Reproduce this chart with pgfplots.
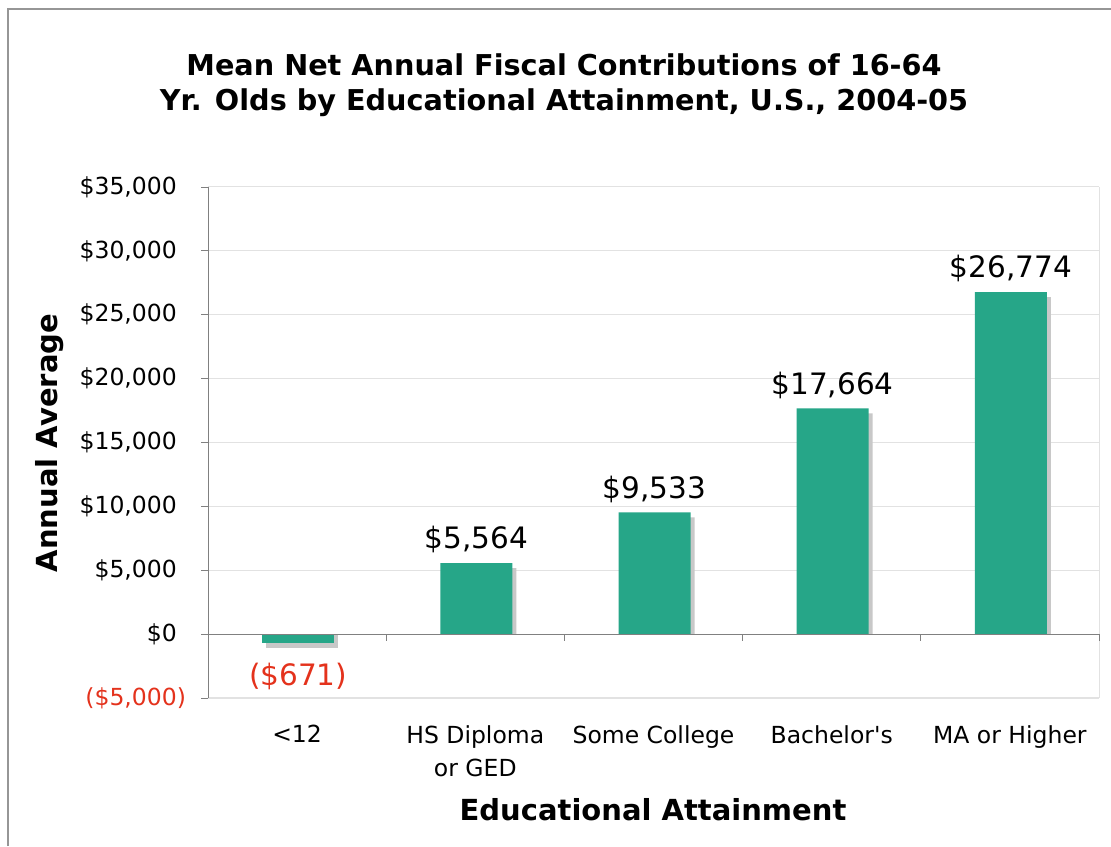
\documentclass[border=0pt]{standalone}
\usepackage{fontspec}
\setmainfont{DejaVu Sans}[Ligatures=TeXOff]
\usepackage{pgfplots}
\usepackage{pgfplotstable}
\pgfplotsset{compat=1.18}
\definecolor{bargreen}{RGB}{38,166,136}
\definecolor{shadowgray}{RGB}{200,200,200}
\definecolor{gridgray}{RGB}{226,226,226}
\definecolor{axisgray}{RGB}{128,128,128}
\definecolor{negred}{RGB}{228,50,28}
\definecolor{framegray}{RGB}{150,150,150}
\pgfplotstableread{
x v lab
1 5564 {\$5,564}
2 9533 {\$9,533}
3 17664 {\$17,664}
4 26774 {\$26,774}
}\postable
\pgfplotstableread{
x v lab
0 -671 {(\$671)}
}\negtable
\begin{document}
\begin{tikzpicture}
\useasboundingbox (0,0) rectangle (1111pt,846pt);
\fill[white] (0,0) rectangle (1111pt,846pt);
\draw[framegray, line width=1.2pt] (8pt,0) -- (8pt,837pt) -- (1111pt,837pt);
\begin{axis}[
  at={(208pt,148pt)}, anchor=south west,
  scale only axis, width=891pt, height=511pt,
  ybar,
  xmin=-0.5, xmax=4.5,
  ymin=-5000, ymax=35000,
  scaled y ticks=false,
  axis y line*=left, axis x line*=bottom,
  x axis line style={draw=gridgray,-},
  y axis line style={draw=axisgray,-, line width=0.9pt},
  xtick={0,1,2,3,4},
  xticklabels={{<12},{HS Diploma\\or GED},{Some College},{Bachelor's},{MA or Higher}},
  xtick style={draw=none},
  xticklabel style={font=\fontsize{23.5}{33}\selectfont, align=center, anchor=north, inner sep=0pt, yshift=-20pt},
  ytick={-5000,0,5000,10000,15000,20000,25000,30000,35000},
  yticklabels={{\textcolor{negred}{(\$5,000\rlap{)}}},{\$0},{\$5,000},{\$10,000},{\$15,000},{\$20,000},{\$25,000},{\$30,000},{\$35,000}},
  yticklabel style={font=\fontsize{23.5}{28}\selectfont, anchor=east, inner sep=0pt, xshift=-24pt},
  tick align=outside,
  major tick length=7pt,
  ytick style={draw=axisgray, line width=0.9pt},
  ymajorgrids,
  grid style={draw=gridgray, line width=1pt},
  bar width=72pt,
  clip=false,
]
\addplot[fill=shadowgray, draw=none, bar shift=5pt] table[x=x, y expr=\thisrow{v}-391] {\postable};
\addplot[fill=shadowgray, draw=none, bar shift=5pt] table[x=x, y expr=\thisrow{v}-391] {\negtable};
\addplot[fill=bargreen, draw=none, bar shift=1pt,
  nodes near coords, point meta=explicit symbolic,
  every node near coord/.append style={font=\fontsize{29.5}{34}\selectfont, text=black, anchor=south, inner xsep=0pt, inner ysep=14pt, text depth=0pt}]
  table[x=x, y=v, meta=lab] {\postable};
\addplot[fill=bargreen, draw=none, bar shift=1pt,
  nodes near coords, point meta=explicit symbolic,
  every node near coord/.append style={font=\fontsize{29.5}{34}\selectfont, text=negred, anchor=north, inner xsep=0pt, inner ysep=20pt}]
  table[x=x, y=v, meta=lab] {\negtable};
\draw[gridgray, line width=1pt] (axis cs:4.5,-5000) -- (axis cs:4.5,35000);
\draw[axisgray, line width=0.9pt] (axis cs:-0.5,0) -- (axis cs:4.5,0);
\pgfplotsinvokeforeach{-0.5,0.5,1.5,2.5,3.5,4.5}{
  \draw[axisgray, line width=0.9pt] (axis cs:#1,0) -- ([yshift=-7pt]axis cs:#1,0);
}
\end{axis}
\node[font=\bfseries\fontsize{28.7}{35}\selectfont, align=center] at (564pt,760.5pt)
  {Mean Net Annual Fiscal Contributions of 16-64\\Yr. Olds by Educational Attainment, U.S., 2004-05};
\node[font=\bfseries\fontsize{29}{34}\selectfont, rotate=90] at (50pt,403pt) {Annual Average};
\node[font=\bfseries\fontsize{29}{34}\selectfont] at (653pt,36pt) {Educational Attainment};
\end{tikzpicture}
\end{document}
